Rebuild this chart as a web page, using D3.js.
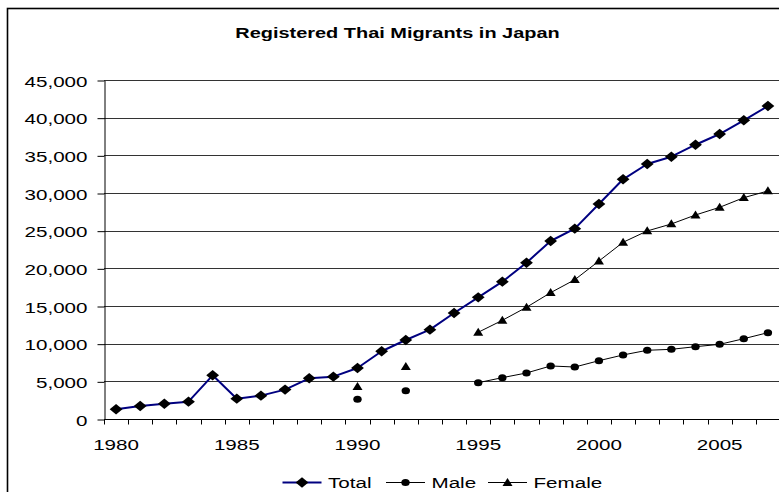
<!DOCTYPE html>
<html>
<head>
<meta charset="utf-8">
<script src="https://cdn.jsdelivr.net/npm/d3@7"></script>
<style>
  html, body { margin: 0; padding: 0; background: #fff; }
  svg { display: block; }
  text { font-family: "Liberation Sans", Arial, sans-serif; fill: #000; }
</style>
</head>
<body>
<svg id="chart" width="779" height="492"></svg>
<script>
// Registered Thai migrants in Japan, 1980–2007
const years = d3.range(1980, 2008);
const totalValues = [1290, 1720, 2030, 2300, 5800, 2700, 3100, 3900, 5400, 5620,
  6770, 8990, 10490, 11860, 14070, 16150, 18230, 20750, 23630, 25270,
  28540, 31820, 33850, 34820, 36410, 37830, 39650, 41550];
const maleValues = [null, null, null, null, null, null, null, null, null, null,
  2610, null, 3760, null, null, 4820, 5490, 6110, 7040, 6900,
  7740, 8500, 9120, 9250, 9600, 9910, 10660, 11460];
const femaleValues = [null, null, null, null, null, null, null, null, null, null,
  4290, null, 6940, null, null, 11510, 13100, 14830, 16770, 18490,
  20970, 23460, 24960, 25890, 27080, 28100, 29380, 30270];
const yTicks = d3.range(0, 45001, 5000);
const xLabelYears = [1980, 1985, 1990, 1995, 2000, 2005];
const titleText = "Registered Thai Migrants in Japan";
const seriesNames = ["Total", "Male", "Female"];

const svg = d3.select("#chart");
const TX = 1.33; // horizontal stretch of text and markers

// chart frame
svg.append("rect")
  .attr("x", 7.5).attr("y", 8.5).attr("width", 900).attr("height", 700)
  .attr("fill", "none").attr("stroke", "#000").attr("stroke-width", 1.6);

const plot = { left: 104, right: 780, top: 80, bottom: 419 };

const x = d3.scaleBand().domain(years).range([plot.left, plot.right]).paddingInner(0).paddingOuter(0);
const cx = d => x(d) + x.bandwidth() / 2;
const y = d3.scaleLinear().domain([0, 45000]).range([plot.bottom, plot.top]);

// title
svg.append("text")
  .attr("transform", `translate(397.5,38) scale(${TX},1)`)
  .attr("text-anchor", "middle")
  .attr("font-weight", "bold")
  .attr("font-size", "15px")
  .text(titleText);

// horizontal gridlines
svg.append("g").selectAll("line").data(yTicks.filter(v => v > 0)).join("line")
  .attr("x1", plot.left).attr("x2", plot.right)
  .attr("y1", d => Math.round(y(d)) + 0.5).attr("y2", d => Math.round(y(d)) + 0.5)
  .attr("stroke", "#333").attr("stroke-width", 1);

// y axis
const yAxis = svg.append("g")
  .attr("transform", `translate(${plot.left + 0.5},0.5)`)
  .call(d3.axisLeft(y).tickValues(yTicks).tickFormat(d3.format(",")).tickSize(7).tickSizeOuter(0));
yAxis.select(".domain").attr("stroke", "#000");
yAxis.selectAll(".tick line").attr("stroke", "#000");
yAxis.selectAll(".tick text")
  .attr("font-family", "Liberation Sans, Arial, sans-serif")
  .attr("font-size", "15.5px")
  .attr("fill", "#000")
  .attr("x", null).attr("dy", null)
  .attr("transform", `translate(-17,5.5) scale(${TX},1)`);

// x axis: tick marks at category boundaries, labels every five years
const xAxis = svg.append("g")
  .attr("transform", `translate(0,${plot.bottom + 0.5})`)
  .call(d3.axisBottom(x).tickValues(xLabelYears).tickSize(0).tickSizeOuter(0));
xAxis.select(".domain").remove();
xAxis.selectAll(".tick text")
  .attr("font-family", "Liberation Sans, Arial, sans-serif")
  .attr("font-size", "15.5px")
  .attr("fill", "#000")
  .attr("y", null).attr("dy", null)
  .attr("transform", `translate(0,30.5) scale(${TX},1)`);
xAxis.append("line")
  .attr("x1", plot.left).attr("x2", plot.right).attr("y1", 0).attr("y2", 0)
  .attr("stroke", "#000");
xAxis.append("g").selectAll("line").data(years).join("line")
  .attr("x1", d => Math.round(x(d)) + 0.5).attr("x2", d => Math.round(x(d)) + 0.5)
  .attr("y1", 0).attr("y2", 5)
  .attr("stroke", "#000");

// marker shapes (drawn stretched horizontally like the text)
const diamond = "M0,-5.2L6.4,0L0,5.2L-6.4,0Z";
const triangle = "M0,-4.6L5,3.4L-5,3.4Z";

function drawSeries(values, color, width, marker) {
  const pts = years.map((yr, i) => ({ yr, v: values[i] }));
  const line = d3.line()
    .defined(d => d.v != null)
    .x(d => cx(d.yr)).y(d => y(d.v));
  // only connect runs of consecutive years
  svg.append("path")
    .datum(pts)
    .attr("d", line)
    .attr("fill", "none").attr("stroke", color).attr("stroke-width", width)
    .attr("stroke-linejoin", "round");
  const g = svg.append("g");
  const valid = pts.filter(d => d.v != null);
  if (marker === "circle") {
    g.selectAll("ellipse").data(valid).join("ellipse")
      .attr("cx", d => cx(d.yr)).attr("cy", d => y(d.v))
      .attr("rx", 4.2).attr("ry", 3.5).attr("fill", "#000");
  } else {
    g.selectAll("path").data(valid).join("path")
      .attr("transform", d => `translate(${cx(d.yr)},${y(d.v)})`)
      .attr("d", marker).attr("fill", "#000");
  }
}

drawSeries(maleValues, "#000", 1, "circle");
drawSeries(femaleValues, "#000", 1, triangle);
drawSeries(totalValues, "#000080", 2, diamond);

// legend
const legend = svg.append("g").attr("transform", "translate(0,482.5)");
const legendItems = [
  { name: seriesNames[0], x1: 282.5, color: "#000080", w: 2, marker: diamond },
  { name: seriesNames[1], x1: 386, color: "#000", w: 1, marker: "circle" },
  { name: seriesNames[2], x1: 488, color: "#000", w: 1, marker: triangle }
];
legendItems.forEach(it => {
  legend.append("line")
    .attr("x1", it.x1).attr("x2", it.x1 + 39).attr("y1", 0).attr("y2", 0)
    .attr("stroke", it.color).attr("stroke-width", it.w);
  const mx = it.x1 + 19.5;
  if (it.marker === "circle") {
    legend.append("ellipse").attr("cx", mx).attr("cy", 0).attr("rx", 4.2).attr("ry", 3.5).attr("fill", "#000");
  } else {
    legend.append("path").attr("transform", `translate(${mx},0)`).attr("d", it.marker).attr("fill", "#000");
  }
  legend.append("text")
    .attr("transform", `translate(${it.x1 + 45.5},5.5) scale(${TX},1)`)
    .attr("font-size", "15.5px")
    .text(it.name);
});
</script>
</body>
</html>
